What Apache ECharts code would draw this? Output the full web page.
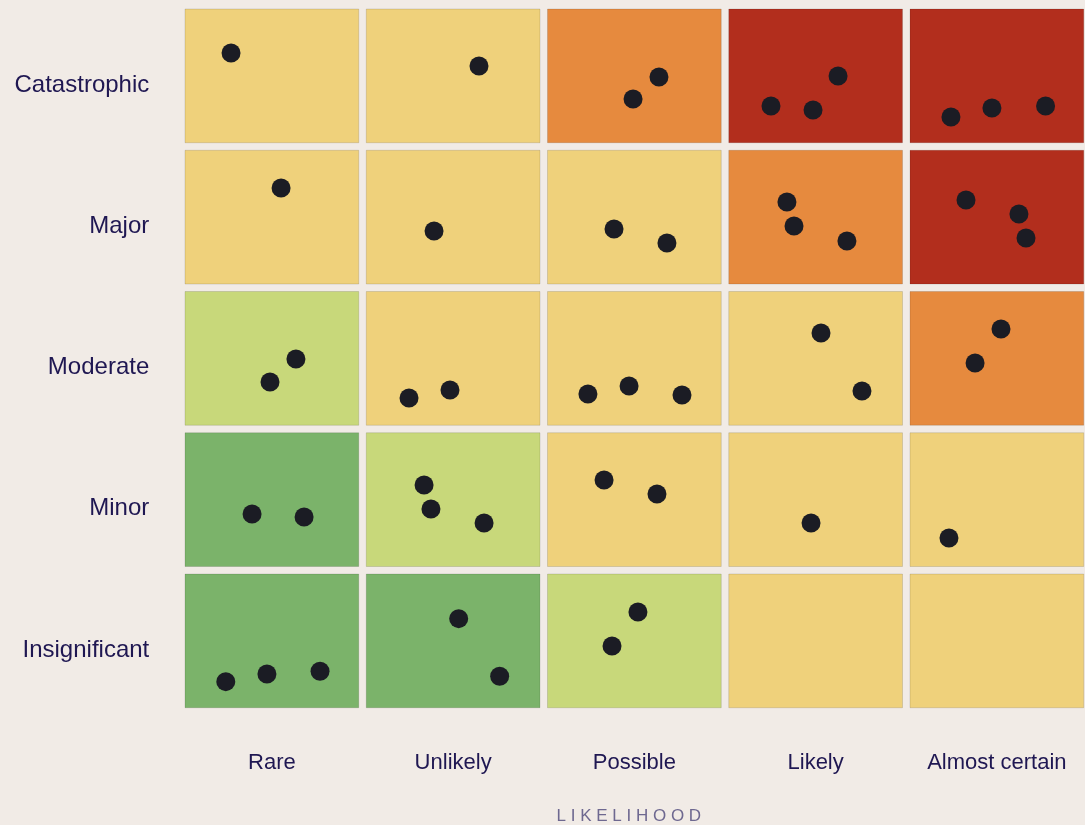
<!DOCTYPE html>
<html>
<head>
<meta charset="UTF-8">
<title>Risk matrix</title>
<script src="https://cdn.jsdelivr.net/npm/echarts@6/dist/echarts.min.js"></script>
<style>
  html, body { margin: 0; padding: 0; background: #f1ebe6; }
  #main { width: 1085px; height: 825px; }
</style>
</head>
<body>
<div id="main"></div>
<script type="text/javascript">
// axis categories
var likelihood = ['Rare', 'Unlikely', 'Possible', 'Likely', 'Almost certain'];
var impact = ['Insignificant', 'Minor', 'Moderate', 'Major', 'Catastrophic'];

// risk level of each cell, rows bottom (Insignificant) to top (Catastrophic)
// 0 = low (green), 1 = low-medium, 2 = medium, 3 = high, 4 = extreme
var levels = [
  [0, 0, 1, 2, 2],
  [0, 1, 2, 2, 2],
  [1, 2, 2, 2, 3],
  [2, 2, 2, 3, 4],
  [2, 2, 3, 4, 4]
];
var levelColors = ['#7bb36a', '#c8d87a', '#efd17b', '#e68a3e', '#b22e1d'];

// risks: [likelihood position, impact position]
var risks = [
  // Catastrophic
  [0.254, 4.689], [1.622, 4.596], [2.615, 4.519], [2.472, 4.363],
  [3.603, 4.526], [3.233, 4.313], [3.465, 4.285],
  [4.226, 4.235], [4.452, 4.299], [4.748, 4.313],
  // Major
  [0.530, 3.733], [1.374, 3.428], [2.367, 3.442], [2.659, 3.343],
  [3.321, 3.634], [3.360, 3.464], [3.652, 3.358],
  [4.309, 3.648], [4.601, 3.549], [4.640, 3.379],
  // Moderate
  [0.612, 2.522], [0.469, 2.359], [1.236, 2.246], [1.462, 2.303],
  [2.223, 2.274], [2.450, 2.331], [2.742, 2.267],
  [3.509, 2.706], [3.735, 2.296], [4.502, 2.735], [4.359, 2.494],
  // Minor
  [0.370, 1.425], [0.657, 1.404], [1.319, 1.630], [1.357, 1.460], [1.650, 1.361],
  [2.312, 1.665], [2.604, 1.566], [3.454, 1.361], [4.215, 1.255],
  // Insignificant
  [0.225, 0.238], [0.452, 0.292], [0.745, 0.311],
  [1.510, 0.684], [1.736, 0.276], [2.499, 0.731], [2.356, 0.490]
];

var cells = [];
for (var j = 0; j < levels.length; j++) {
  for (var i = 0; i < levels[j].length; i++) {
    cells.push([i, j, levels[j][i]]);
  }
}

var textColor = '#1f1752';
var font = 'Liberation Sans, Arial, sans-serif';
var myChart = echarts.init(document.getElementById('main'));

var option = {
  backgroundColor: '#f1ebe6',
  animation: false,
  grid: [
    // plotting area for cells and dots
    { left: 185, top: 9, width: 906.25, height: 706.25, outerBoundsMode: 'none' },
    // label grid, centered on cells
    { left: 181.25, top: 14.4, width: 906.25, height: 706.25, outerBoundsMode: 'none' }
  ],
  xAxis: [
    { type: 'value', gridIndex: 0, min: 0, max: 5, show: false },
    {
      type: 'category', gridIndex: 1, data: likelihood,
      axisLine: { show: false }, axisTick: { show: false }, splitLine: { show: false },
      axisLabel: { interval: 0, margin: 31, fontSize: 22, color: textColor, fontFamily: font },
      name: 'L I K E L I H O O D', nameLocation: 'middle', nameGap: 87,
      nameTextStyle: { fontSize: 17, color: '#6e6890', fontFamily: font, padding: [0, 11, 0, 0] }
    }
  ],
  yAxis: [
    { type: 'value', gridIndex: 0, min: 0, max: 5, show: false },
    {
      type: 'category', gridIndex: 1, data: impact,
      axisLine: { show: false }, axisTick: { show: false }, splitLine: { show: false },
      axisLabel: { interval: 0, margin: 32, fontSize: 24, color: textColor, fontFamily: font }
    }
  ],
  series: [
    {
      type: 'custom',
      xAxisIndex: 0, yAxisIndex: 0,
      data: cells,
      renderItem: function (params, api) {
        var gap = 7.5;
        var tl = api.coord([api.value(0), api.value(1) + 1]);
        var br = api.coord([api.value(0) + 1, api.value(1)]);
        return {
          type: 'rect',
          shape: { x: tl[0], y: tl[1], width: br[0] - tl[0] - gap, height: br[1] - tl[1] - gap },
          style: { fill: levelColors[api.value(2)], stroke: 'rgba(0,0,0,0.12)', lineWidth: 1 }
        };
      },
      z: 1
    },
    {
      type: 'scatter',
      xAxisIndex: 0, yAxisIndex: 0,
      data: risks,
      symbol: 'circle',
      symbolSize: 19,
      itemStyle: { color: '#1b1c24', opacity: 1 },
      z: 2
    }
  ]
};
myChart.setOption(option);
</script>
</body>
</html>
